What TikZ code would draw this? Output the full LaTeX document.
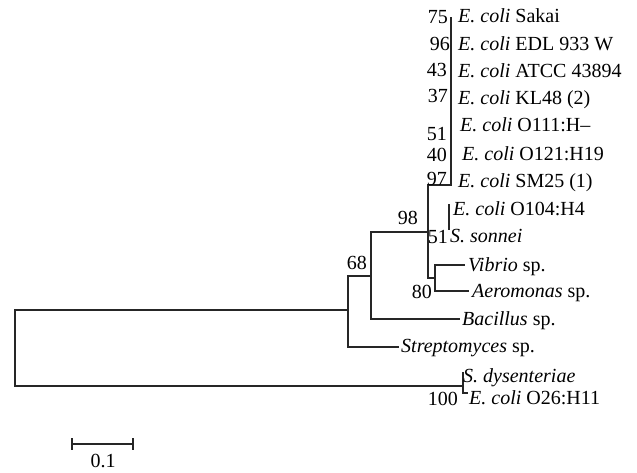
\documentclass[tikz,border=0pt]{standalone}
\usepackage{fontspec}
\setmainfont{Liberation Serif}
\begin{document}
\begin{tikzpicture}[x=1pt,y=-1pt,
  br/.style={line width=1.2pt,line cap=rect,draw=black!85},
  lf/.style={anchor=base west,inner sep=0pt,font=\fontsize{20}{22}\selectfont},
  bs/.style={anchor=base east,inner sep=0pt,font=\fontsize{20}{22}\selectfont}]
\useasboundingbox (0,0) rectangle (637,472);
% internal coordinates
\coordinate (rt) at (15,310); \coordinate (rb) at (15,386);
\coordinate (n68) at (348,310); \coordinate (n68t) at (348,276); \coordinate (n68b) at (348,347);
\coordinate (n98t) at (371,232); \coordinate (n98m) at (371,276); \coordinate (n98b) at (371,319);
\coordinate (n51t) at (428,185); \coordinate (n51m) at (428,232); \coordinate (n51b) at (428,278);
\coordinate (n80m) at (435,278); \coordinate (n80t) at (435,265); \coordinate (n80b) at (435,291);
\coordinate (n97) at (451,185); \coordinate (sp) at (451,18);
\coordinate (t1) at (449,205); \coordinate (t2) at (449,229);
\coordinate (n100m) at (463,386); \coordinate (n100t) at (463,373); \coordinate (n100b) at (463,393);
% tips
\coordinate (vib) at (464,265); \coordinate (aer) at (468,291);
\coordinate (bac) at (459,319); \coordinate (str) at (398,347);
\coordinate (e26) at (467,393);
% branches
\draw[br] (n68) -- (rt) -- (rb) -- (n100m);
\draw[br] (n68t) -- (n68b) -- (str);
\draw[br] (n68t) -- (n98m);
\draw[br] (n98t) -- (n98b) -- (bac);
\draw[br] (n98t) -- (n51m);
\draw[br] (n51t) -- (n51b) -- (n80m);
\draw[br] (vib) -- (n80t) -- (n80b) -- (aer);
\draw[br] (n51t) -- (n97) -- (sp);
\draw[br] (t1) -- (t2);
\draw[br] (n100t) -- (n100b) -- (e26);
% leaves
\node[lf] (l1) at (458,22) {\textit{E. coli} Sakai};
\node[lf] (l2) at (458,50) {\textit{E. coli} EDL 933 W};
\node[lf] (l3) at (458,77) {\textit{E. coli} ATCC 43894};
\node[lf] (l4) at (458,104) {\textit{E. coli} KL48 (2)};
\node[lf] (l5) at (460,131) {\textit{E. coli} O111:H–};
\node[lf] (l6) at (462,160) {\textit{E. coli} O121:H19};
\node[lf] (l7) at (458,187) {\textit{E. coli} SM25 (1)};
\node[lf] (l8) at (453,215) {\textit{E. coli} O104:H4};
\node[lf] (l9) at (450,242) {\textit{S. sonnei}};
\node[lf] (l10) at (468,271) {\textit{Vibrio} sp.};
\node[lf] (l11) at (472,297) {\textit{Aeromonas} sp.};
\node[lf] (l12) at (462,325) {\textit{Bacillus} sp.};
\node[lf] (l13) at (401,352) {\textit{Streptomyces} sp.};
\node[lf] (l14) at (463,382) {\textit{S. dysenteriae}};
\node[lf] (l15) at (469,404) {\textit{E. coli} O26:H11};
% bootstrap values
\node[bs] (b75) at (448,23) {75};
\node[bs] (b96) at (450,50) {96};
\node[bs] (b43) at (447,76) {43};
\node[bs] (b37) at (448,102) {37};
\node[bs] (b51a) at (447,140) {51};
\node[bs] (b40) at (447,161) {40};
\node[bs] (b97) at (447,185) {97};
\node[bs] (b98) at (418,224) {98};
\node[bs] (b51b) at (448,243) {51};
\node[bs] (b68) at (367,269) {68};
\node[bs] (b80) at (432,298) {80};
\node[bs] (b100) at (458,405) {100};
% scale bar
\coordinate (s1) at (72,444); \coordinate (s2) at (133,444);
\draw[br] (s1) -- (s2);
\draw[br] ([yshift=-5pt]s1) -- ([yshift=5pt]s1);
\draw[br] ([yshift=-5pt]s2) -- ([yshift=5pt]s2);
\node[anchor=base,inner sep=0pt,font=\fontsize{20}{22}\selectfont] (sl) at (103,467) {0.1};
\end{tikzpicture}
\end{document}
